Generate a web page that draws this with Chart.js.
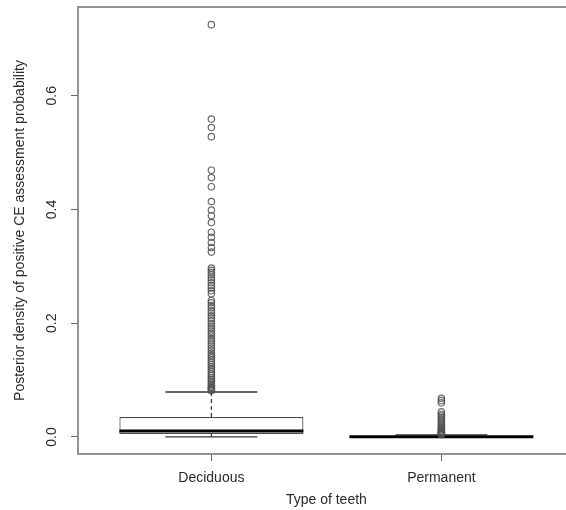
<!DOCTYPE html>
<html><head><meta charset="utf-8">
<script src="https://cdn.jsdelivr.net/npm/chart.js@4"></script>
<style>
html,body{margin:0;padding:0;background:#fff;overflow:hidden;width:566px;height:510px}
#c{position:absolute;left:0;top:0}
</style>
</head><body>
<canvas id="c" width="580" height="510"></canvas>
<script>
const categories = ["Deciduous", "Permanent"];
const categoryPositions = [1, 2];
const whiskerLow = [0.0, 0.0];
const q1 = [0.005, 0.0];
const medians = [0.0106, 0.0004];
const q3 = [0.035, 0.001];
const whiskerHigh = [0.079, 0.0035];
const outliersDeciduous = [0.725, 0.559, 0.544, 0.528, 0.469, 0.456, 0.440, 0.414, 0.399, 0.389, 0.377,
  0.360, 0.351, 0.342, 0.333, 0.325, 0.297, 0.293, 0.289, 0.285, 0.280, 0.276, 0.271, 0.266, 0.262,
  0.257, 0.252, 0.240, 0.236, 0.231, 0.227, 0.222, 0.218, 0.213, 0.209, 0.204, 0.199, 0.195, 0.191,
  0.186, 0.182, 0.178, 0.173, 0.169, 0.165, 0.160, 0.156, 0.152, 0.147, 0.143, 0.139, 0.135, 0.131,
  0.127, 0.123, 0.119, 0.115, 0.111, 0.108, 0.104, 0.101, 0.098, 0.095, 0.092, 0.089, 0.087, 0.085,
  0.083, 0.081];
const outliersPermanent = [0.068, 0.064, 0.060, 0.044, 0.040, 0.037, 0.034, 0.031, 0.028, 0.025,
  0.022, 0.019, 0.017, 0.015, 0.013, 0.011, 0.009, 0.008, 0.007, 0.006, 0.005, 0.004];
const yTicks = [0, 0.2, 0.4, 0.6];
const xTitle = "Type of teeth";
const yTitle = "Posterior density of positive CE assessment probability";

const FONT = "'Liberation Sans', Arial, sans-serif";
const TXT = '#2a2a2a';

function halfWidth(frac) {
  return (ctx) => {
    const s = ctx.chart.scales.x;
    return Math.abs(s.getPixelForValue(1 + frac) - s.getPixelForValue(1));
  };
}

const datasets = [];
// boxes
datasets.push({
  type: 'bar',
  data: categoryPositions.map((x, i) => ({x, y: [q1[i], q3[i]]})),
  backgroundColor: '#ffffff',
  borderColor: '#4a4a4a',
  borderWidth: 1.2,
  borderSkipped: false,
  barPercentage: 0.8,
  categoryPercentage: 1,
  grouped: false,
  order: 5
});
// whiskers (dashed)
categoryPositions.forEach((x, i) => {
  datasets.push({
    type: 'line',
    data: [{x, y: q3[i]}, {x, y: whiskerHigh[i]}],
    borderColor: '#333', borderWidth: 1.2, borderDash: [4, 3],
    pointRadius: 0, fill: false, order: 4
  });
  datasets.push({
    type: 'line',
    data: [{x, y: q1[i]}, {x, y: whiskerLow[i]}],
    borderColor: '#333', borderWidth: 1.2, borderDash: [4, 3],
    pointRadius: 0, fill: false, order: 4
  });
});
// whisker caps
datasets.push({
  type: 'scatter',
  data: categoryPositions.map((x, i) => ({x, y: whiskerHigh[i]})).concat(
        categoryPositions.map((x, i) => ({x, y: whiskerLow[i]}))),
  pointStyle: 'line', pointRadius: halfWidth(0.2), pointHoverRadius: halfWidth(0.2),
  pointBorderColor: '#333', pointBorderWidth: 1.3, order: 3
});
// medians
datasets.push({
  type: 'scatter',
  data: categoryPositions.map((x, i) => ({x, y: medians[i]})),
  pointStyle: 'line', pointRadius: halfWidth(0.4), pointHoverRadius: halfWidth(0.4),
  pointBorderColor: '#000', pointBorderWidth: 3, order: 2
});
// outliers
datasets.push({
  type: 'scatter',
  data: outliersDeciduous.map(v => ({x: 1, y: v})).concat(outliersPermanent.map(v => ({x: 2, y: v}))),
  pointStyle: 'circle', pointRadius: 3.2, pointBorderWidth: 1.2,
  pointBorderColor: 'rgba(80,80,80,0.85)', pointBackgroundColor: 'rgba(0,0,0,0)', order: 1
});

const framePlugin = {
  id: 'frame',
  afterDraw(chart) {
    const {ctx, chartArea: a} = chart;
    ctx.save();
    ctx.strokeStyle = '#888';
    ctx.lineWidth = 1.8;
    ctx.strokeRect(a.left, a.top, a.right - a.left, a.bottom - a.top);
    ctx.restore();
  }
};

new Chart(document.getElementById('c'), {
  type: 'bar',
  data: {datasets},
  plugins: [framePlugin],
  options: {
    responsive: false,
    animation: false,
    layout: {padding: {top: 7, right: 2, left: 0, bottom: 0}},
    plugins: {legend: {display: false}, tooltip: {enabled: false}},
    scales: {
      x: {
        type: 'linear', min: 0.42, max: 2.58, offset: false,
        afterBuildTicks: (s) => { s.ticks = categoryPositions.map(v => ({value: v})); },
        afterFit: (s) => { s.height = 56; s.paddingLeft = 0; s.paddingRight = 0; },
        ticks: {
          callback: (v) => categories[categoryPositions.indexOf(v)] || '',
          font: {family: FONT, size: 14}, color: TXT, padding: 9, autoSkip: false, maxRotation: 0
        },
        grid: {drawOnChartArea: false, drawTicks: true, tickLength: 7, color: '#666', offset: false},
        border: {display: false},
        title: {display: true, text: xTitle, font: {family: FONT, size: 14}, color: TXT, padding: {top: 0, bottom: 1}}
      },
      y: {
        type: 'linear', min: -0.030, max: 0.756,
        afterBuildTicks: (s) => { s.ticks = yTicks.map(v => ({value: v})); },
        afterFit: (s) => { s.width = 78; s.paddingTop = 0; s.paddingBottom = 0; },
        ticks: {
          callback: (v) => v.toFixed(1),
          font: {family: FONT, size: 14}, color: TXT, padding: 9,
          minRotation: 90, maxRotation: 90, crossAlign: 'center'
        },
        grid: {drawOnChartArea: false, drawTicks: true, tickLength: 7, color: '#666'},
        border: {display: false},
        title: {display: true, text: yTitle, font: {family: FONT, size: 14}, color: TXT, padding: {top: 12, bottom: 0}}
      }
    }
  }
});
</script>
</body></html>
